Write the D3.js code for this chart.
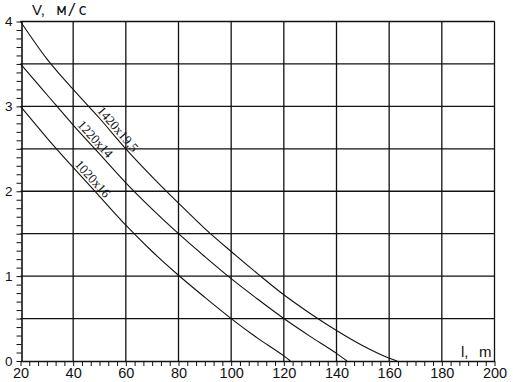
<!DOCTYPE html>
<html>
<head>
<meta charset="utf-8">
<script src="https://cdn.jsdelivr.net/npm/d3@7/dist/d3.min.js"></script>
<style>
  html, body { margin: 0; padding: 0; background: #fff; }
  svg { display: block; }
</style>
</head>
<body>
<svg id="chart" width="513" height="382"></svg>
<script>
// ---- data ----
const xTicks = [20, 40, 60, 80, 100, 120, 140, 160, 180, 200];
const yTicks = [0, 1, 2, 3, 4];
const yGrid = [0.5, 1, 1.5, 2, 2.5, 3, 3.5, 4];
const xGrid = [40, 60, 80, 100, 120, 140, 160, 180, 200];

const seriesNames = ["1420x19,5", "1220x14", "1020x16"];
const lenTop = [20, 30, 40, 50, 60, 70, 80, 90, 100, 110, 120, 130, 140, 150, 158, 163];
const velTop = [4.0, 3.56, 3.2, 2.86, 2.5, 2.17, 1.86, 1.56, 1.29, 1.03, 0.78, 0.56, 0.36, 0.18, 0.06, 0];
const lenMid = [20, 30, 40, 50, 60, 70, 80, 90, 100, 110, 120, 130, 140, 144];
const velMid = [3.5, 3.14, 2.78, 2.44, 2.1, 1.79, 1.5, 1.23, 0.97, 0.73, 0.5, 0.29, 0.09, 0];
const lenLow = [20, 30, 40, 50, 60, 70, 80, 90, 100, 110, 120, 122.5];
const velLow = [3.0, 2.63, 2.28, 1.94, 1.6, 1.29, 1.01, 0.75, 0.5, 0.27, 0.06, 0];
const labelAt = [55, 46.5, 45.5];

// ---- chart ----
const svg = d3.select("#chart");
const x = d3.scaleLinear().domain([20, 200]).range([20.5, 494.5]);
const y = d3.scaleLinear().domain([0, 4]).range([361, 21.5]);
const ink = "#111";
const sans = "'Liberation Sans', Arial, sans-serif";

// grid
svg.append("g").selectAll("line").data(yGrid).join("line")
  .attr("x1", x(20)).attr("x2", x(200))
  .attr("y1", d => y(d)).attr("y2", d => y(d))
  .attr("stroke", ink).attr("stroke-width", 1.3);
svg.append("g").selectAll("line").data(xGrid).join("line")
  .attr("x1", d => x(d)).attr("x2", d => x(d))
  .attr("y1", y(0)).attr("y2", y(4))
  .attr("stroke", ink).attr("stroke-width", 1.3);

// minor ticks
const xMinor = d3.range(0, 55).map(i => 20 + i * 20 / 6).filter(v => v <= 200.01);
const yMinor = d3.range(0, 41).map(i => i / 10);

const xMinorAxis = svg.append("g").attr("transform", `translate(0,${y(0)})`)
  .call(d3.axisBottom(x).tickValues(xMinor).tickSize(5).tickSizeOuter(0).tickFormat(""));
const yMinorAxis = svg.append("g").attr("transform", `translate(${x(20) + 1},0)`)
  .call(d3.axisLeft(y).tickValues(yMinor).tickSize(5).tickSizeOuter(0).tickFormat(""));
[xMinorAxis, yMinorAxis].forEach(g => {
  g.selectAll("line").attr("stroke", ink).attr("stroke-width", 1);
  g.select(".domain").attr("stroke", ink).attr("stroke-width", 1.6);
});

// tick labels
const xLab = svg.append("g").attr("transform", `translate(0,${y(0)})`)
  .call(d3.axisBottom(x).tickValues(xTicks).tickSize(0).tickPadding(7).tickFormat(d3.format("d")));
xLab.select(".domain").remove();
xLab.selectAll("text").attr("font-family", sans).attr("font-size", 14.5).attr("fill", ink);

const yLab = svg.append("g").attr("transform", `translate(${x(20)},0)`)
  .call(d3.axisLeft(y).tickValues(yTicks).tickSize(0).tickPadding(8).tickFormat(d3.format("d")));
yLab.select(".domain").remove();
yLab.selectAll("text").attr("font-family", sans).attr("font-size", 13.5).attr("fill", ink);

// curves
const seriesData = [
  lenTop.map((l, i) => [l, velTop[i]]),
  lenMid.map((l, i) => [l, velMid[i]]),
  lenLow.map((l, i) => [l, velLow[i]])
];
const line = d3.line().x(d => x(d[0])).y(d => y(d[1])).curve(d3.curveMonotoneX);
svg.append("g").selectAll("path").data(seriesData).join("path")
  .attr("d", line).attr("fill", "none").attr("stroke", ink).attr("stroke-width", 1.1);

// curve labels
seriesData.forEach((pts, k) => {
  const l = labelAt[k];
  let i = pts.findIndex(p => p[0] > l) - 1;
  const a = pts[i], b = pts[i + 1];
  const t = (l - a[0]) / (b[0] - a[0]);
  const v = a[1] + t * (b[1] - a[1]);
  const px = x(l), py = y(v);
  const ang = Math.atan2(y(b[1]) - y(a[1]), x(b[0]) - x(a[0])) * 180 / Math.PI;
  svg.append("text")
    .attr("transform", `translate(${px},${py}) rotate(${ang})`)
    .attr("dy", -2.5)
    .attr("text-anchor", "middle")
    .attr("font-family", "'Liberation Serif', 'Times New Roman', serif")
    .attr("font-size", 13)
    .attr("fill", ink)
    .text(seriesNames[k]);
});

// axis titles
const yt = svg.append("text").attr("x", 32).attr("y", 15)
  .attr("font-family", sans).attr("font-size", 15).attr("fill", ink);
yt.append("tspan").text("V,");
yt.append("tspan").attr("x", 57).attr("font-family", "'DejaVu Sans Mono', monospace")
  .attr("font-size", 15).attr("letter-spacing", 1.5).text("м/с");

const xt = svg.append("text").attr("x", 461).attr("y", 357)
  .attr("font-family", sans).attr("font-size", 15).attr("fill", ink);
xt.append("tspan").text("l,");
xt.append("tspan").attr("x", 479).text("m");
</script>
</body>
</html>
